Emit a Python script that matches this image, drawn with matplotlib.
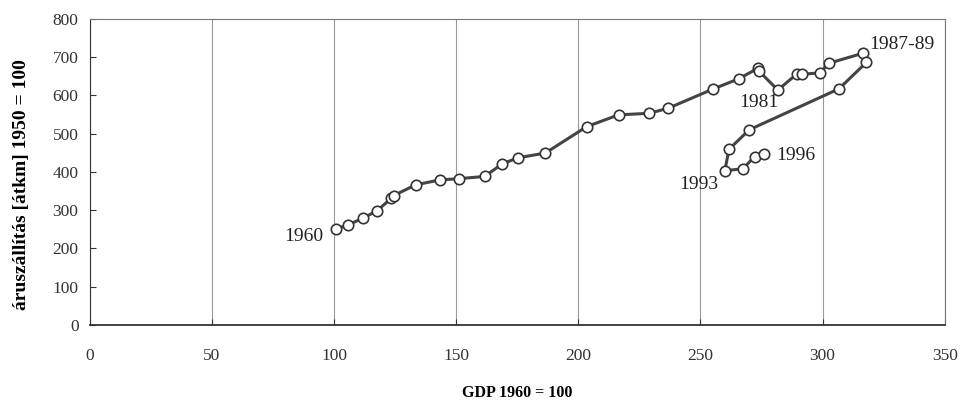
import matplotlib.pyplot as plt

# GDP index (1960 = 100) and freight transport index (1950 = 100), 1960-1996
gdp = [101, 105.7, 111.9, 117.6, 123.5, 124.5, 133.4, 143.5, 151, 161.7,
       168.9, 175.5, 186.5, 203.4, 216.5, 229, 236.7, 255, 265.6, 273.6,
       274, 281.7, 289.5, 291.7, 299, 302.6, 316.5, 317.9, 306.7, 270,
       261.7, 260, 267.4, 272.2, 275.9]
freight = [251, 261, 279, 298, 331, 338, 366, 379, 382, 388,
           421, 437, 449, 518, 549, 553, 566, 616, 643, 671,
           663, 614, 656, 655, 659, 684, 710, 686, 617, 510,
           459, 403, 408, 440, 446]

year_labels = ['1960', '1981', '1987-89', '1993', '1996']
label_x = [95.5, 274, 319, 257.5, 281]
label_y = [230, 580, 732, 366, 444]
label_ha = ['right', 'center', 'left', 'right', 'left']

x_ticks = [0, 50, 100, 150, 200, 250, 300, 350]
y_ticks = [0, 100, 200, 300, 400, 500, 600, 700, 800]

plt.rcParams['font.family'] = ['Liberation Serif', 'DejaVu Serif']

fig = plt.figure(figsize=(9.64, 4.01), dpi=100)
ax = fig.add_axes([0.093, 0.19, 0.887, 0.763])

ax.plot(gdp, freight, color='#444444', linewidth=2.2, marker='o',
        markersize=7.5, markerfacecolor='white', markeredgecolor='#333333',
        markeredgewidth=1.2, zorder=3)

for txt, lx, ly, ha in zip(year_labels, label_x, label_y, label_ha):
    ax.text(lx, ly, txt, ha=ha, va='center', fontsize=14, color='#222222')

ax.set_xlim(0, 350)
ax.set_ylim(0, 800)
ax.set_xticks(x_ticks)
ax.set_yticks(y_ticks)
ax.xaxis.grid(True, color='#999999', linewidth=0.8)
ax.set_axisbelow(True)
ax.tick_params(axis='both', labelsize=12.5, colors='#333333', direction='in', length=4)
ax.tick_params(axis='x', pad=17)
ax.tick_params(axis='y', pad=8)

for sp in ax.spines.values():
    sp.set_color('#777777')
    sp.set_linewidth(0.8)
ax.spines['bottom'].set_color('#333333')
ax.spines['bottom'].set_linewidth(1.3)
ax.spines['left'].set_color('#333333')

ax.set_xlabel('GDP 1960 = 100', fontsize=11.5, fontweight='bold', labelpad=15)
ax.set_ylabel('áruszállítás [átkm] 1950 = 100', fontsize=14, fontweight='bold')
ax.yaxis.set_label_coords(-0.07, 0.46)

fig.savefig('out.png', dpi=100)
